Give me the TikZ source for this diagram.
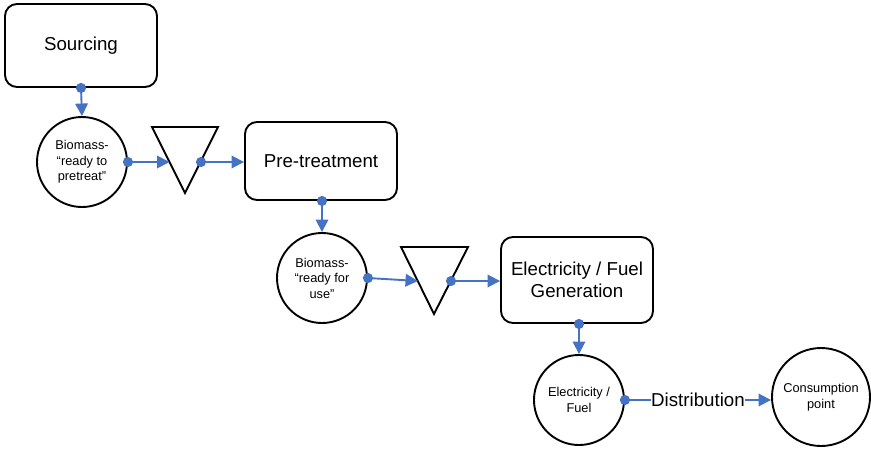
\documentclass[tikz,border=0pt]{standalone}
\usepackage{fontspec}
\setmainfont{Liberation Sans}
\usetikzlibrary{arrows.meta}
\definecolor{flowblue}{HTML}{4472C4}
\begin{document}
\begin{tikzpicture}[x=1pt,y=-1pt,
  stage/.style={draw=black, line width=1.9pt, rounded corners=12pt, minimum width=152pt,
    font=\fontsize{18.7}{22}\selectfont, align=center, inner sep=2pt},
  state/.style={draw=black, line width=1.9pt, circle, inner sep=0pt,
    font=\fontsize{12.8}{15.5}\selectfont, align=center},
  valve/.style={draw=black, line width=1.9pt, line join=miter},
  flow/.style={draw=flowblue, line width=1.9pt,
    {Circle[length=10pt]}-{Triangle[length=12.5pt,width=12.5pt]}, shorten <=-5pt},
  lbl/.style={font=\fontsize{18.7}{22}\selectfont, fill=white, inner sep=0.5pt}
]
\useasboundingbox (0,0) rectangle (871,450);

% process stages
\node[stage, minimum height=83pt] (src) at (81,45.5) {Sourcing};
\node[stage, minimum height=78pt] (pre) at (321,161) {Pre-treatment};
\node[stage, minimum height=86pt] (gen) at (577,280) {Electricity / Fuel\\Generation};

% material states
\node[state, minimum size=90pt] (bio1) at (82,162) {Biomass-\\“ready to\\pretreat”};
\node[state, minimum size=90pt] (bio2) at (322,278) {Biomass-\\“ready for\\use”};
\node[state, minimum size=90pt] (out) at (579,400) {Electricity /\\Fuel};
\node[state, minimum size=98pt] (use) at (821,397) {Consumption\\point};

% storage triangles
\coordinate (s1a) at (152,127);
\coordinate (s1b) at (218,127);
\coordinate (s1c) at (185,193);
\draw[valve] (s1a) -- (s1b) -- (s1c) -- cycle;
\coordinate (s1in) at (169.5,162);
\coordinate (s1out) at (201,162);

\coordinate (s2a) at (401,247);
\coordinate (s2b) at (468,247);
\coordinate (s2c) at (434,314);
\draw[valve] (s2a) -- (s2b) -- (s2c) -- cycle;
\coordinate (s2in) at (418,281);
\coordinate (s2out) at (451,281);

% flows
\draw[flow] (src.south) -- (bio1.north);
\draw[flow] (bio1.east) -- (s1in);
\draw[flow] (s1out) -- (pre.west |- s1out);
\draw[flow] (pre.south -| bio2) -- (bio2.north);
\draw[flow] (bio2.east) -- (s2in);
\draw[flow] (s2out) -- (gen.west |- s2out);
\draw[flow] (gen.south -| out) -- (out.north);
\draw[flow] (out.east) -- (use.west |- out.east)
  node[lbl, pos=0.5] {Distribution};
\end{tikzpicture}
\end{document}
